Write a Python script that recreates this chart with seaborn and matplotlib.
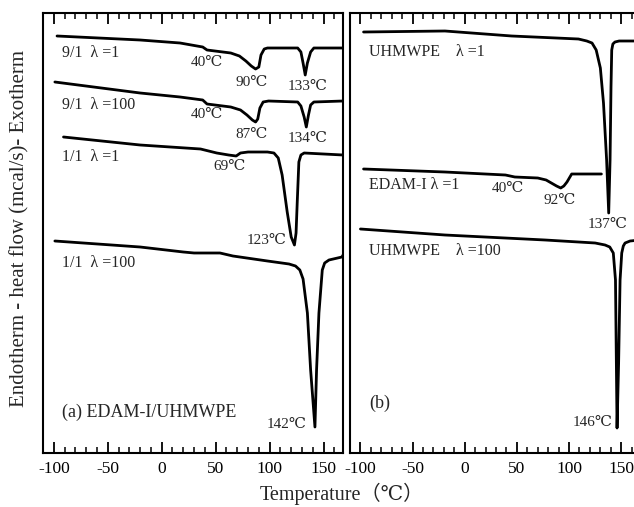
import matplotlib
matplotlib.use('Agg')
import matplotlib.pyplot as plt
import seaborn as sns
from matplotlib.ticker import MultipleLocator

# DSC traces, temperature (C) vs heat flow (arbitrary units)
t_91_l1 = [-97, -20, 17, 38, 42, 64, 72, 78, 83, 87, 90, 92, 95, 98, 126, 129, 131, 133, 135, 138, 141, 168]
hf_91_l1 = [417, 413, 410, 406, 403, 400, 397, 392, 387, 384, 386, 398, 404, 405, 405, 401, 390, 378, 390, 401, 405, 405]

t_91_l100 = [-99, -20, 17, 38, 42, 64, 73, 79, 84, 87, 89, 91, 94, 99, 126, 129, 132, 134, 136, 138, 141, 168]
hf_91_l100 = [371, 360, 356, 353, 349, 346, 343, 338, 333, 331, 334, 345, 351, 352, 351, 347, 336, 326, 338, 348, 351, 352]

t_11_l1 = [-91, -20, 36, 51, 62, 69, 73, 80, 98, 104, 108, 111.6, 116.3, 120, 123, 124.5, 125.6, 127.1, 129, 132, 168]
hf_11_l1 = [316, 308, 304, 300, 298, 297, 300, 301, 301, 300, 295, 278, 241, 216, 208, 220, 251, 291, 298, 300, 298]

t_11_l100 = [-99, -20, 20, 30, 54, 66, 98, 118, 124, 128, 131, 135, 138, 142, 143.5, 145.7, 148.8, 151, 155, 163, 167, 168.6]
hf_11_l100 = [212, 206, 201, 200, 200, 197, 192, 189, 187, 183, 174, 140, 83, 26, 83, 140, 183, 190, 193, 195, 196, 199]

t_pe_l1 = [-97, -19, 45, 109, 117, 122, 126, 130, 133, 136, 138, 139.3, 140.2, 140.9, 142, 144, 148, 163, 168]
hf_pe_l1 = [421, 422, 417, 414, 412, 410, 403, 385, 350, 293, 240, 293, 366, 403, 409, 411, 412, 412, 412]

t_edam_l1 = [-97, -19, 39, 48, 70, 78, 83, 88, 92, 95, 98, 102.5, 131]
hf_edam_l1 = [284, 281, 278, 276, 275, 273, 270, 267, 265, 267, 271, 279, 279]

t_pe_l100 = [-100, -19, 77, 125, 134.5, 139, 142.4, 144.5, 146, 147.5, 148.9, 150.5, 152, 153.7, 158.5, 168]
hf_pe_l100 = [224, 218, 213, 210, 208, 206, 200, 173, 25, 90, 173, 200, 207, 210, 212, 213]

# annotations: (text, temperature, heat flow)
left_names = [('9/1  λ =1', -92, 400), ('9/1  λ =100', -92, 348), ('1/1  λ =1', -92, 296),
              ('1/1  λ =100', -92, 190)]
left_temps = [('40℃', 42, 390), ('90℃', 83, 371), ('133℃', 135, 367),
              ('40℃', 42, 338), ('87℃', 83, 318), ('134℃', 135, 315),
              ('69℃', 63, 287), ('123℃', 97, 213), ('142℃', 116, 29)]
right_names = [('UHMWPE    λ =1', -92, 401), ('EDAM-I λ =1', -92, 268), ('UHMWPE    λ =100', -92, 202)]
right_temps = [('40℃', 41.5, 265), ('92℃', 90.5, 253), ('137℃', 136.5, 228), ('146℃', 123, 30)]

sns.set_theme(style='white')
plt.rcParams['font.family'] = ['Liberation Serif', 'DejaVu Serif', 'Noto Sans CJK SC']

fig = plt.figure(figsize=(6.34, 5.07), dpi=100, facecolor='white')
ax1 = fig.add_axes([43 / 634, 54 / 507, 300 / 634, 440 / 507])
ax2 = fig.add_axes([350 / 634, 54 / 507, 290 / 634, 440 / 507])

lw = 2.0
for t, hf in [(t_91_l1, hf_91_l1), (t_91_l100, hf_91_l100), (t_11_l1, hf_11_l1), (t_11_l100, hf_11_l100)]:
    sns.lineplot(x=t, y=hf, ax=ax1, color='black', lw=lw, estimator=None, sort=False)
for t, hf in [(t_pe_l1, hf_pe_l1), (t_edam_l1, hf_edam_l1), (t_pe_l100, hf_pe_l100)]:
    sns.lineplot(x=t, y=hf, ax=ax2, color='black', lw=lw, estimator=None, sort=False)

for ax in (ax1, ax2):
    ax.set_xlim(-110, 168)
    ax.set_ylim(0, 440)
    ax.set_yticks([])
    ax.xaxis.set_major_locator(MultipleLocator(50))
    ax.xaxis.set_minor_locator(MultipleLocator(10))
    ax.tick_params(axis='x', which='both', direction='in', top=True, bottom=True,
                   color='black', labelsize=12.5, labelcolor='black', pad=6)
    ax.tick_params(axis='x', which='major', length=8, width=1.3)
    ax.tick_params(axis='x', which='minor', length=4, width=1.1)
    for s in ax.spines.values():
        s.set_color('black')
        s.set_linewidth(1.5)
    ax.set_xlabel('')
    ax.set_ylabel('')
    ax.set_xticks([-100, -50, 0, 50, 100, 150])
    ax.set_xticklabels(['-100', '-50', '0', '50', '100', '150'])

for txt, x, y in left_names:
    ax1.text(x, y, txt, fontsize=11.5, ha='left', va='center')
for txt, x, y in left_temps:
    ax1.text(x, y, txt, fontsize=11, ha='center', va='center')
for txt, x, y in right_names:
    ax2.text(x, y, txt, fontsize=11.5, ha='left', va='center')
for txt, x, y in right_temps:
    ax2.text(x, y, txt, fontsize=11, ha='center', va='center')
ax1.text(-92, 41, '(a) EDAM-I/UHMWPE', fontsize=13, ha='left', va='center')
ax2.text(-92, 50, '(b)', fontsize=13, ha='left', va='center')

fig.text(20 / 634, 1 - 228 / 507, 'Endotherm - heat flow (mcal/s)- Exotherm', rotation=90,
         fontsize=15, ha='center', va='center')
fig.text(342 / 634, 1 - 494 / 507, 'Temperature（℃）', fontsize=14.5, ha='center', va='center')

fig.savefig('out.png', dpi=100, facecolor='white')
